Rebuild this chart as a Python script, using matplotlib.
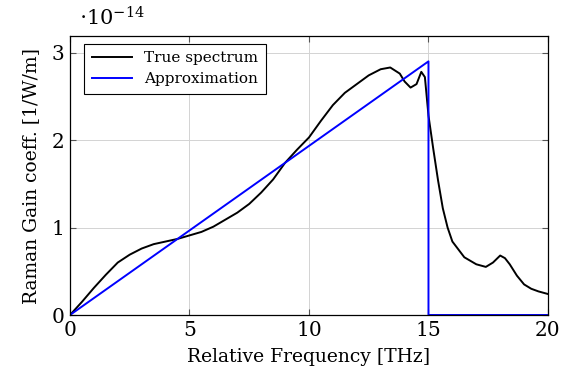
import matplotlib.pyplot as plt

plt.rcParams['font.family'] = ['DejaVu Serif']
plt.rcParams['mathtext.fontset'] = 'dejavuserif'

# Raman gain spectrum (units of 1e-14 1/W/m)
freq_true = [0, 0.5, 1, 1.5, 2, 2.5, 3, 3.5, 4, 4.5, 5, 5.5, 6, 6.5, 7, 7.5,
             8, 8.5, 9, 9.5, 10, 10.5, 11, 11.5, 12, 12.5, 13, 13.4, 13.8,
             14.0, 14.25, 14.5, 14.7, 14.85, 15.0, 15.2, 15.4, 15.6, 15.8,
             16.0, 16.5, 17.0, 17.4, 17.7, 18.0, 18.2, 18.4, 18.7, 19.0,
             19.3, 19.6, 20]
gain_true = [0, 0.15, 0.31, 0.46, 0.60, 0.69, 0.76, 0.81, 0.84, 0.87, 0.91,
             0.95, 1.01, 1.09, 1.17, 1.27, 1.40, 1.55, 1.74, 1.89, 2.03, 2.22,
             2.40, 2.54, 2.64, 2.74, 2.81, 2.83, 2.76, 2.67, 2.60, 2.64, 2.78,
             2.72, 2.28, 1.90, 1.54, 1.22, 1.00, 0.84, 0.66, 0.58, 0.55, 0.60,
             0.68, 0.65, 0.58, 0.45, 0.35, 0.30, 0.27, 0.24]

# triangular approximation
freq_approx = [0, 15, 15, 20]
gain_approx = [0, 2.9, 0, 0]

fig = plt.figure(figsize=(5.75, 3.85), dpi=100)
ax = fig.add_axes([0.1217, 0.1818, 0.8313, 0.7247])

ax.plot(freq_true, gain_true, color='black', lw=1.4, label='True spectrum')
ax.plot(freq_approx, gain_approx, color='blue', lw=1.4, label='Approximation')

ax.set_xlim(0, 20)
ax.set_ylim(0, 3.19)
ax.set_xticks([0, 5, 10, 15, 20])
ax.set_yticks([0, 1, 2, 3])
ax.grid(True, color='#d3d3d3', lw=0.7)
ax.set_axisbelow(True)
ax.tick_params(direction='in', top=True, right=True, length=4, width=0.8,
               labelsize=14.5, color='#555555', pad=4)
for s in ax.spines.values():
    s.set_linewidth(0.9)

ax.set_xlabel('Relative Frequency [THz]', fontsize=13.5, labelpad=6)
ax.set_ylabel('Raman Gain coeff. [1/W/m]', fontsize=13.5, labelpad=8)
ax.text(0.018, 1.025, r'$\cdot 10^{-14}$', transform=ax.transAxes, fontsize=15,
        ha='left', va='bottom')

leg = ax.legend(loc='upper left', bbox_to_anchor=(0.03, 0.972), borderaxespad=0,
                fancybox=False, edgecolor='black', framealpha=1, fontsize=11,
                handlelength=2.6, borderpad=0.5, labelspacing=0.45)
leg.get_frame().set_linewidth(0.8)

fig.savefig('out.png', dpi=100)
